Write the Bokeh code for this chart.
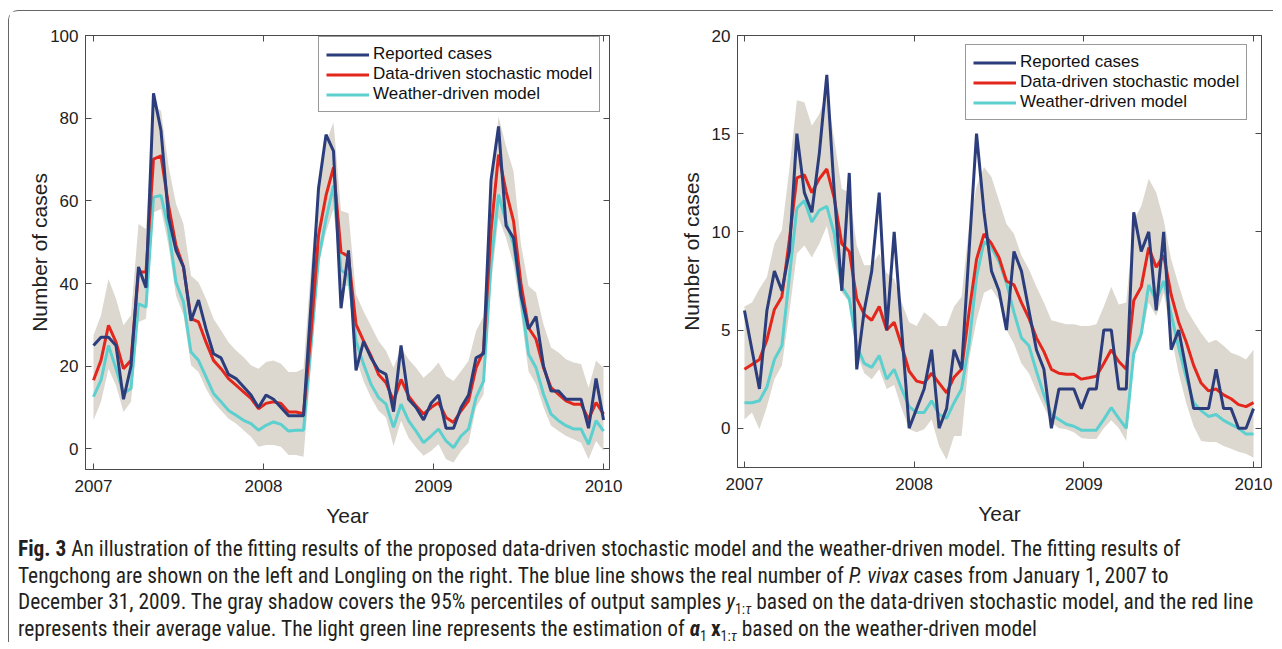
from bokeh.plotting import figure
from bokeh.models import Range1d, FixedTicker, LinearAxis, Legend, LegendItem, Div
from bokeh.layouts import row, column
from bokeh.embed import file_html
from bokeh.resources import INLINE

# ---------------- data (69 sixteen-day periods, Jan 2007 - Dec 2009) ----------------
periods = list(range(69))
year_ticks = [2007, 2008, 2009, 2010]

# Tengchong (left panel)
teng_reported = [25, 27, 27, 25, 12, 20, 44, 39, 86, 77, 56, 48, 44, 31, 36, 29, 23, 22, 18, 17,
                 15, 13, 10, 13, 12, 10, 8, 8, 8, 35, 63, 76, 72, 34, 48, 19, 26, 22, 19, 18,
                 9, 25, 12, 10, 7, 11, 13, 5, 5, 10, 13, 22, 23, 65, 78, 54, 51, 37, 29, 32,
                 20, 14, 14, 12, 12, 12, 5, 17, 7]
teng_stoch = [16.6, 21.4, 29.9, 25.8, 19.4, 21.4, 42.8, 42.8, 70.1, 70.9, 58.9, 49.2, 44, 31.5, 30.7,
              25.8, 21.4, 19.4, 17, 15.4, 13.8, 12.2, 9.7, 11, 11.4, 11, 8.9, 8.9, 8.5, 28, 51.6,
              61.3, 68.1, 47.6, 46.5, 30.1, 26.1, 22.5, 18, 16, 11.6, 16.8, 12.8, 10.4, 8.4, 10,
              11.2, 7.6, 6.4, 9.2, 11.6, 19.6, 23.7, 52.7, 71.2, 62.3, 55.1, 39.8, 29.3, 26.5,
              19.6, 14.8, 13.2, 11.6, 10.8, 10.8, 7.2, 11.2, 8.4]
teng_weather = [12.6, 16.6, 25, 19.4, 13.4, 14.6, 35.1, 34.3, 60.9, 61.3, 53.2, 40.3, 35.5, 23.4, 21.4,
                17.4, 13.4, 11.4, 9.3, 8.1, 6.9, 6.1, 4.5, 5.7, 6.5, 5.9, 4.3, 4.5, 4.5, 25, 46,
                55.6, 63.7, 43.2, 42, 26.1, 20.5, 15.6, 12.4, 10.8, 5.2, 10.8, 6.8, 4.3, 1.5, 3.1,
                4.8, 1.9, 0.3, 3.1, 4.8, 12.4, 16.4, 44.6, 61.5, 55, 49.4, 36.6, 22.9, 19.6, 13.2,
                8.4, 6.8, 5.6, 4.8, 4.8, 1.1, 6.8, 4.3]
teng_upper = [27.5, 32.3, 41.1, 36.3, 29.9, 32.3, 54.4, 53.2, 83, 81.8, 68.5, 59.3, 54.4, 41.9, 40.3,
              36.3, 31.5, 28.7, 25.8, 23.8, 22.2, 20.2, 19.4, 21, 21.4, 20.6, 18.6, 18.6, 19.4, 44,
              62.9, 74.2, 79, 57.6, 57, 37.4, 33.3, 29.7, 26.1, 23.7, 19.6, 24.5, 21.7, 19.6, 17.2,
              18.8, 20.9, 17.6, 16.4, 18.8, 21.3, 28.5, 32.1, 64.7, 80.4, 73.2, 67.1, 49.4, 39.4,
              37.8, 30.1, 24.5, 23.3, 21.7, 20.9, 20.5, 14.8, 21.3, 19.6]
teng_lower = [6.9, 11.4, 19.4, 15.4, 8.9, 11.4, 30.7, 31.5, 57.2, 58, 49.2, 37.1, 32.3, 20.2, 18.6,
              14.6, 11.4, 9.3, 7.3, 6.1, 4.5, 2.9, 0.5, 0.9, 0.9, 0.5, -1.5, -1.5, -1.9, 20, 44.4,
              52.4, 58, 39.5, 39.4, 22, 16.4, 12.4, 9.2, 7.6, 0.7, 6.8, 2.7, 0.3, -1.7, -0.5, 1.1,
              -2.5, -3.3, -0.5, 1.5, 10, 13.2, 39.8, 55.9, 51, 44.6, 32.5, 18.8, 15.6, 10, 5.6,
              4.3, 3.1, 2.3, 1.5, -2.5, 1.9, -0.5]

# Longling (right panel)
long_reported = [6, 4, 2, 6, 8, 7, 9, 15, 12, 11, 14, 18, 12, 7, 13, 3, 6, 8, 12, 5,
                 10, 5, 0, 1, 2, 4, 0, 1, 4, 3, 9, 15, 11, 8, 7, 5, 9, 8, 6, 4,
                 3, 0, 2, 2, 2, 1, 2, 2, 5, 5, 2, 2, 11, 9, 10, 6, 10, 4, 5, 3,
                 1, 1, 1, 3, 1, 1, 0, 0, 1]
long_stoch = [3.0, 3.25, 3.5, 4.5, 6.05, 6.7, 9.6, 12.75, 12.9, 12, 12.7, 13.2, 11.7, 9.4, 9.0, 6.6,
              5.8, 5.5, 6.2, 5.0, 5.4, 4.2, 2.9, 2.4, 2.3, 2.8, 2.3, 1.8, 2.6, 3.0, 5.9, 8.6, 9.9,
              9.4, 8.7, 7.5, 7.3, 6.4, 5.6, 4.6, 3.9, 3.0, 2.8, 2.75, 2.75, 2.5, 2.57, 2.65, 3.3,
              4.0, 3.4, 3.0, 6.5, 7.2, 9.2, 8.2, 8.8, 6.8, 5.4, 4.4, 3.2, 2.3, 1.9, 2.0, 1.7, 1.5,
              1.2, 1.1, 1.3]
long_weather = [1.3, 1.3, 1.4, 2.1, 3.5, 4.2, 7.7, 11.2, 11.6, 10.5, 11.1, 11.3, 9.9, 7.2, 6.6, 4.2,
                3.3, 3.1, 3.7, 2.5, 3.0, 2.0, 1.1, 0.8, 0.8, 1.4, 0.7, 0.5, 1.3, 2.0, 4.3, 7.7, 9.5,
                9.2, 8.5, 7.4, 5.9, 4.6, 4.2, 2.9, 1.7, 0.7, 0.45, 0.2, 0.1, -0.1, -0.1, -0.1, 0.45,
                1.05, 0.5, 0.0, 3.8, 4.8, 7.3, 6.5, 7.5, 5.8, 4.1, 2.6, 1.3, 0.9, 0.6, 0.7, 0.4, 0.2,
                0.0, -0.3, -0.3]
long_upper = [6.2, 6.4, 7.1, 7.7, 9.4, 10.1, 13.2, 16.7, 16.6, 15.4, 16, 17.1, 14.7, 12.2, 12, 9.3,
              8.3, 8.3, 8.9, 7.9, 7.6, 6.4, 5.4, 5.2, 5.9, 5.6, 5.2, 5.2, 6.2, 6.7, 10.3, 12.3, 13.3,
              12.8, 11.6, 10.4, 9.9, 8.8, 8.1, 7.2, 6.4, 5.5, 5.4, 5.3, 5.3, 5.2, 5.2, 5.3, 6.2, 7.2,
              6.3, 6.4, 10.6, 11.3, 12.7, 12.0, 10.6, 8.6, 7.3, 6.1, 5.45, 4.85, 4.35, 4.5, 4.2,
              3.85, 3.7, 3.5, 4.0]
long_lower = [0.45, 0.8, -0.05, 1.1, 2.5, 3.2, 5.9, 8.9, 9.3, 8.7, 9.4, 10.3, 8.6, 6.9, 6.4, 3.8,
              2.8, 2.5, 3.0, 2.0, 2.2, 1.0, -0.05, -0.2, -0.05, 0.45, -0.9, -1.6, -0.4, -0.4, 3.5,
              5.5, 6.9, 7.1, 6.5, 5.0, 4.3, 3.3, 2.8, 1.9, 1.1, 0.3, 0.0, -0.05, -0.2, -0.5, -0.55,
              -0.55, 0.0, 0.4, 0.0, -0.65, 3.6, 4.5, 6.4, 5.7, 6.9, 4.7, 2.8, 1.3, 0.1, -0.65, -0.7,
              -0.7, -0.9, -1.05, -1.2, -1.3, -1.5]

teng_yticks = [0, 20, 40, 60, 80, 100]
long_yticks = [0, 5, 10, 15, 20]

series_labels = ["Reported cases", "Data-driven stochastic model", "Weather-driven model"]

# x position of each period, evenly spread from the start of 2007 to the start of 2010
years = [2007 + 3.0 * k / (len(periods) - 1) for k in periods]

# ---------------- style ----------------
BLUE = "#2C3D7C"
RED = "#E4271D"
CYAN = "#5CCFCF"
BAND = "#DCD8D0"
AX = "#4a4a4a"
FONT = "Liberation Sans"


def style_axis(ax, ticks, labels=True):
    ax.ticker = FixedTicker(ticks=ticks)
    ax.major_tick_in = 6
    ax.major_tick_out = 0
    ax.minor_tick_line_color = None
    ax.axis_line_color = AX
    ax.major_tick_line_color = AX
    ax.major_label_text_font = FONT
    if labels:
        ax.major_label_text_font_size = "17px"
        ax.major_label_text_color = "#222222"
    else:
        # mirror axis (box ticks only): labels are not painted
        ax.major_label_text_font_size = "1px"
        ax.major_label_text_color = None
        ax.major_label_standoff = 0


def panel(xr, yr, yticks, up, lo, rep, sto, wea, legend_xy, min_left, min_top, fh, min_right, ylab_standoff):
    p = figure(frame_width=524, frame_height=fh, x_range=xr, y_range=yr,
               min_border_left=min_left, min_border_right=min_right,
               min_border_top=min_top, min_border_bottom=60,
               output_backend="svg", toolbar_location=None, tools="")
    p.grid.visible = False
    p.outline_line_color = AX
    p.background_fill_color = "white"
    p.border_fill_color = "white"

    p.varea(x=years, y1=lo, y2=up, fill_color=BAND, fill_alpha=1.0)
    rw = p.line(years, wea, line_color=CYAN, line_width=3)
    rs = p.line(years, sto, line_color=RED, line_width=3)
    rr = p.line(years, rep, line_color=BLUE, line_width=3)

    style_axis(p.xaxis[0], year_ticks)
    style_axis(p.yaxis[0], yticks)
    p.xaxis[0].major_label_standoff = 10
    p.yaxis[0].major_label_standoff = 7
    p.xaxis.axis_label = "Year"
    p.yaxis.axis_label = "Number of cases"
    for ax in (p.xaxis[0], p.yaxis[0]):
        ax.axis_label_text_font = FONT
        ax.axis_label_text_font_size = "21px"
        ax.axis_label_text_font_style = "normal"
        ax.axis_label_text_color = "#222222"
    p.xaxis[0].axis_label_standoff = 9
    p.yaxis[0].axis_label_standoff = ylab_standoff

    top = LinearAxis()
    style_axis(top, year_ticks, labels=False)
    p.add_layout(top, "above")
    right = LinearAxis()
    style_axis(right, yticks, labels=False)
    p.add_layout(right, "right")

    leg = Legend(items=[LegendItem(label=series_labels[0], renderers=[rr]),
                        LegendItem(label=series_labels[1], renderers=[rs]),
                        LegendItem(label=series_labels[2], renderers=[rw])],
                 location=legend_xy)
    leg.label_text_font = FONT
    leg.label_text_font_size = "17px"
    leg.label_text_color = "#111111"
    leg.glyph_width = 43
    leg.glyph_height = 19
    leg.label_height = 19
    leg.label_standoff = 4
    leg.padding = 7
    leg.spacing = 0
    leg.margin = 0
    leg.border_line_color = "#333333"
    leg.border_line_width = 1
    leg.background_fill_alpha = 1.0
    p.add_layout(leg)
    return p


p1 = panel(Range1d(2006.953, 2010.035), Range1d(-5, 100), teng_yticks,
           teng_upper, teng_lower, teng_reported, teng_stoch, teng_weather,
           (233, 357), 76, 22, 434, 58, -4)
p2 = panel(Range1d(2006.959, 2010.047), Range1d(-2, 20), long_yticks,
           long_upper, long_lower, long_reported, long_stoch, long_weather,
           (228, 347), 70, 24, 432, 12, 6)

SUB = '<sub style="font-size:65%; line-height:0">'
caption = (
    '<b>Fig. 3</b> An illustration of the fitting results of the proposed data-driven stochastic model '
    'and the weather-driven model. The fitting results of<br>'
    'Tengchong are shown on the left and Longling on the right. The blue line shows the real number of '
    '<i>P. vivax</i> cases from January 1, 2007 to<br>'
    'December 31, 2009. The gray shadow covers the 95% percentiles of output samples '
    '<i>y</i>' + SUB + '1:<i>&tau;</i></sub> based on the data-driven stochastic model, '
    'and the red line<br>'
    'represents their average value. The light green line represents the estimation of '
    '<b><i>&alpha;</i></b>' + SUB + '1</sub>&thinsp;<b>x</b>'
    + SUB + '1:<i>&tau;</i></sub> based on the weather-driven model'
)
cap = Div(text=caption, width=1255, margin=(9, 0, 0, 9),
          styles={"font-family": "'Liberation Sans Narrow', 'Roboto Condensed', 'Open Sans', sans-serif",
                  "font-size": "21.4px", "line-height": "26.5px", "color": "#231f20",
                  "white-space": "nowrap"})

layout = column(row(p1, p2), cap, margin=(10, 0, 0, 8),
                styles={"border-left": "1px solid #666", "border-top": "1px solid #666",
                        "border-top-left-radius": "10px", "background": "white"})

open("out.html", "w").write(file_html(layout, INLINE))
